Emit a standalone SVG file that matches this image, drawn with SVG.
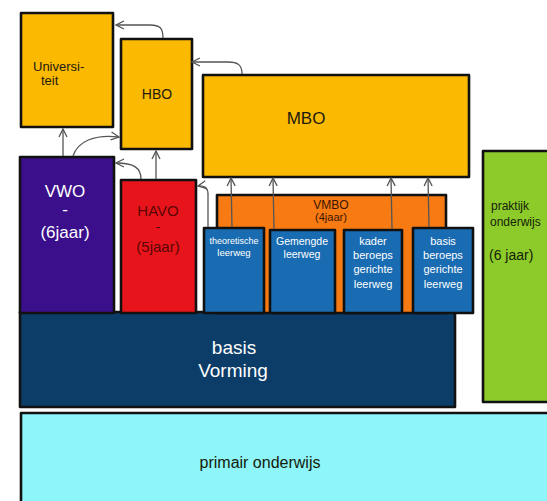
<svg xmlns="http://www.w3.org/2000/svg" width="547" height="501" viewBox="0 0 547 501">
<defs>
<style>
.box{stroke:#111;stroke-width:2.6;stroke-linejoin:round}
.gold{fill:#fbb900}
.t{font-family:"Liberation Sans","DejaVu Sans",sans-serif;text-anchor:middle}
.dk{fill:#1e1a10}
.wh{fill:#ffffff}
.conn{fill:none;stroke:#555;stroke-width:1.3;marker-end:url(#ah)}
</style>
<marker id="ah" viewBox="0 0 10 10" refX="9" refY="5" markerWidth="10" markerHeight="10" markerUnits="userSpaceOnUse" orient="auto">
<path d="M1,1 L9,5 L1,9" fill="none" stroke="#555" stroke-width="1.3"/>
</marker>
</defs>
<rect width="547" height="501" fill="#ffffff"/>

<g id="primair">
<rect class="box" x="21" y="413" width="540" height="100" fill="#8ef6fa"/>
<text class="t" x="260" y="468" font-size="16" fill="#142008">primair onderwijs</text>
</g>

<g id="praktijk">
<rect class="box" x="483" y="151" width="80" height="251" fill="#8dcb2b"/>
<text x="491" y="210" font-family="Liberation Sans,DejaVu Sans,sans-serif" font-size="12" fill="#142008">praktijk</text>
<text x="490" y="226" font-family="Liberation Sans,DejaVu Sans,sans-serif" font-size="12" fill="#142008">onderwijs</text>
<text x="489" y="260" font-family="Liberation Sans,DejaVu Sans,sans-serif" font-size="14" fill="#142008">(6 jaar)</text>
</g>

<g id="basisvorming">
<rect class="box" x="20" y="312" width="435" height="95" fill="#0c3d68"/>
<text class="t wh" x="234" y="354" font-size="19">basis</text>
<text class="t wh" x="233" y="377" font-size="19">Vorming</text>
</g>

<g id="vwo">
<rect class="box" x="20" y="157" width="94" height="156" fill="#3b0f8c"/>
<text class="t wh" x="65" y="197" font-size="17">VWO</text>
<text class="t wh" x="65" y="215" font-size="17">-</text>
<text class="t wh" x="65" y="238" font-size="17">(6jaar)</text>
</g>

<g id="havo">
<rect class="box" x="121" y="180" width="75" height="133" fill="#e8141b"/>
<text class="t" x="158" y="216" font-size="15" fill="#5a0606">HAVO</text>
<text class="t" x="158" y="232" font-size="15" fill="#5a0606">-</text>
<text class="t" x="158" y="252" font-size="15" fill="#5a0606">(5jaar)</text>
</g>

<g id="vmbo">
<rect class="box" x="217" y="195" width="229" height="118" fill="#f77a12"/>
<text class="t" x="331" y="209" font-size="12" fill="#3a1500">VMBO</text>
<text class="t" x="331" y="221" font-size="11" fill="#3a1500">(4jaar)</text>
</g>

<g id="theoretische">
<rect class="box" x="204" y="228" width="60" height="85" fill="#1a6cb2"/>
<text class="t wh" x="234" y="244" font-size="9">theoretische</text>
<text class="t wh" x="234" y="256" font-size="9.5">leerweg</text>
</g>

<g id="gemengde">
<rect class="box" x="270" y="230" width="65" height="83" fill="#1a6cb2"/>
<text class="t wh" x="302" y="245" font-size="10.5">Gemengde</text>
<text class="t wh" x="302" y="258" font-size="10.5">leerweg</text>
</g>

<g id="kader">
<rect class="box" x="344" y="230" width="58" height="83" fill="#1a6cb2"/>
<text class="t wh" x="373" y="245" font-size="11">kader</text>
<text class="t wh" x="373" y="259" font-size="11">beroeps</text>
<text class="t wh" x="373" y="273" font-size="11">gerichte</text>
<text class="t wh" x="373" y="288" font-size="11">leerweg</text>
</g>

<g id="basisberoeps">
<rect class="box" x="413" y="228" width="60" height="85" fill="#1a6cb2"/>
<text class="t wh" x="443" y="245" font-size="11">basis</text>
<text class="t wh" x="443" y="259" font-size="11">beroeps</text>
<text class="t wh" x="443" y="273" font-size="11">gerichte</text>
<text class="t wh" x="443" y="288" font-size="11">leerweg</text>
</g>

<g id="universiteit">
<rect class="box gold" x="21" y="13" width="92" height="114"/>
<text x="33" y="71" font-family="Liberation Sans,DejaVu Sans,sans-serif" font-size="13" fill="#1e1a10">Universi-</text>
<text x="41" y="85" font-family="Liberation Sans,DejaVu Sans,sans-serif" font-size="13" fill="#1e1a10">teit</text>
</g>

<g id="hbo">
<rect class="box gold" x="121" y="39" width="71" height="110"/>
<text class="t dk" x="157" y="99" font-size="14">HBO</text>
</g>

<g id="mbo">
<rect class="box gold" x="203" y="75" width="266" height="102"/>
<text class="t dk" x="306" y="124" font-size="17">MBO</text>
</g>

<g id="connectors">
<path class="conn" d="M163,38 C163,28 160,25 150,25 L116,25"/>
<path class="conn" d="M242,74 C242,65 238,62 228,62 L192,62"/>
<path class="conn" d="M63,156 L63,129"/>
<path class="conn" d="M73,156 C78,141 95,134 119,137"/>
<path class="conn" d="M141,179 C141,168 134,163 116,163"/>
<path class="conn" d="M156,179 L156,151"/>
<path class="conn" d="M208,227 L208,194 C208,188 204,185 198,186"/>
<path class="conn" d="M232,227 L231,178"/>
<path class="conn" d="M274,229 L273,178"/>
<path class="conn" d="M392,229 L391,178"/>
<path class="conn" d="M429,227 L428,178"/>
</g>
</svg>
